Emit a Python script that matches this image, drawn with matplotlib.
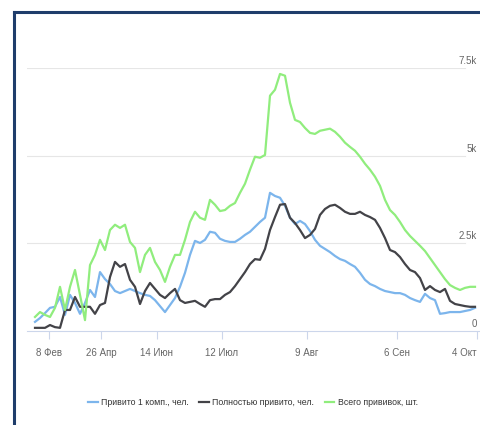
import matplotlib
matplotlib.use("Agg")
import matplotlib.pyplot as plt
from matplotlib.lines import Line2D

plt.rcParams['font.family'] = ['Liberation Sans', 'DejaVu Sans']

# values sampled at equal steps along the (category) x axis
first_dose = [260, 370, 510, 660, 690, 970, 460, 1030, 800, 490,
              800, 1170, 970, 1680, 1480, 1340, 1140, 1080, 1140, 1200,
              1140, 1080, 1030, 1000, 880, 710, 540, 740, 940, 1260,
              1660, 2170, 2570, 2510, 2600, 2830, 2800, 2630, 2570, 2540,
              2540, 2630, 2740, 2830, 2970, 3110, 3230, 3940, 3850, 3800,
              3570, 3230, 3050, 3140, 3050, 2850, 2600, 2430, 2340, 2250,
              2140, 2050, 2000, 1910, 1830, 1660, 1460, 1340, 1280, 1200,
              1140, 1110, 1080, 1080, 1030, 940, 880, 830, 1060, 940,
              880, 490, 510, 540, 540, 540, 570, 600, 660]
fully = [90, 90, 90, 170, 110, 90, 600, 600, 970, 690,
         690, 690, 490, 740, 800, 1540, 1970, 1830, 1910, 1460,
         1260, 770, 1140, 1370, 1200, 1030, 940, 1080, 1200, 880,
         800, 830, 860, 770, 690, 880, 910, 910, 1030, 1110,
         1280, 1480, 1680, 1910, 2050, 2030, 2340, 2880, 3250, 3600,
         3620, 3230, 3080, 2880, 2650, 2740, 2910, 3310, 3480, 3570,
         3600, 3510, 3400, 3340, 3340, 3400, 3310, 3250, 3170, 2940,
         2650, 2310, 2250, 2110, 1910, 1740, 1680, 1510, 1170, 1280,
         1170, 1110, 1200, 860, 770, 740, 710, 690, 690]
total = [400, 540, 460, 400, 660, 1260, 600, 1260, 1740, 1030,
         310, 1880, 2170, 2600, 2310, 2880, 3030, 2940, 3030, 2540,
         2370, 1680, 2170, 2370, 1970, 1740, 1400, 1830, 2170, 2170,
         2600, 3110, 3400, 3230, 3170, 3740, 3600, 3420, 3450, 3570,
         3650, 3940, 4200, 4600, 4970, 4940, 5020, 6710, 6880, 7330,
         7280, 6510, 6020, 5960, 5790, 5650, 5620, 5710, 5740, 5770,
         5680, 5540, 5370, 5250, 5140, 4970, 4770, 4600, 4400, 4140,
         3740, 3450, 3310, 3110, 2880, 2710, 2570, 2430, 2280, 2080,
         1880, 1680, 1480, 1310, 1230, 1170, 1230, 1260, 1260]

tick_labels = ['8 Фев', '26 Апр', '14 Июн', '12 Июл', '9 Авг', '6 Сен', '4 Окт']
tick_pos = [2.7, 13.2, 24.4, 37.4, 54.4, 72.4, 88.4]
y_ticks = [0, 2500, 5000, 7500]
y_labels = ['0', '2.5k', '5k', '7.5k']

names = ['Привито 1 комп., чел.', 'Полностью привито, чел.', 'Всего прививок, шт.']
colors = ['#7cb5ec', '#434348', '#90ed7d']

fig = plt.figure(figsize=(4.8, 4.25), dpi=100)
ax = fig.add_axes([27 / 480, 94 / 425, 463 / 480, 263 / 425])

x = list(range(len(total)))
for series, c in zip([first_dose, fully, total], colors):
    ax.plot(x, series, color=c, lw=1.6, clip_on=False, solid_joinstyle='round')

ax.set_xlim(-1.6, 91)
ax.set_ylim(0, 7500)

for v in y_ticks[1:]:
    ax.axhline(v, xmax=0.945, color='#e6e6e6', lw=0.8, zorder=0)
for v, lab in zip(y_ticks, y_labels):
    ax.text(0.972, v + 60, lab, transform=ax.get_yaxis_transform(), ha='right', va='bottom',
            fontsize=7, color='#666666')

for s in ['top', 'right', 'left']:
    ax.spines[s].set_visible(False)
ax.spines['bottom'].set_color('#ccd6eb')
ax.spines['bottom'].set_linewidth(0.8)
ax.set_yticks([])
ax.set_xticks(tick_pos)
ax.set_xticklabels(tick_labels, fontsize=7, color='#666666')
ax.get_xticklabels()[-1].set_horizontalalignment('right')
ax.tick_params(axis='x', length=6, width=0.8, color='#ccd6eb', pad=6)

handles = [Line2D([], [], color=c, lw=1.6) for c in colors]
fig.legend(handles, names, loc='center', bbox_to_anchor=(0.527, 0.052), ncol=3,
           frameon=False, fontsize=6.3, handlelength=1.1, handletextpad=0.4,
           columnspacing=1.2, labelcolor='#333333')

# dark frame around the widget (left and top edges are visible)
fig.add_artist(Line2D([13.5 / 480, 13.5 / 480], [0, 1 - 12 / 425], color='#1f3d6b', lw=2.2))
fig.add_artist(Line2D([13.5 / 480, 1], [1 - 12 / 425, 1 - 12 / 425], color='#1f3d6b', lw=2.2))

fig.savefig('out.png', dpi=100)
